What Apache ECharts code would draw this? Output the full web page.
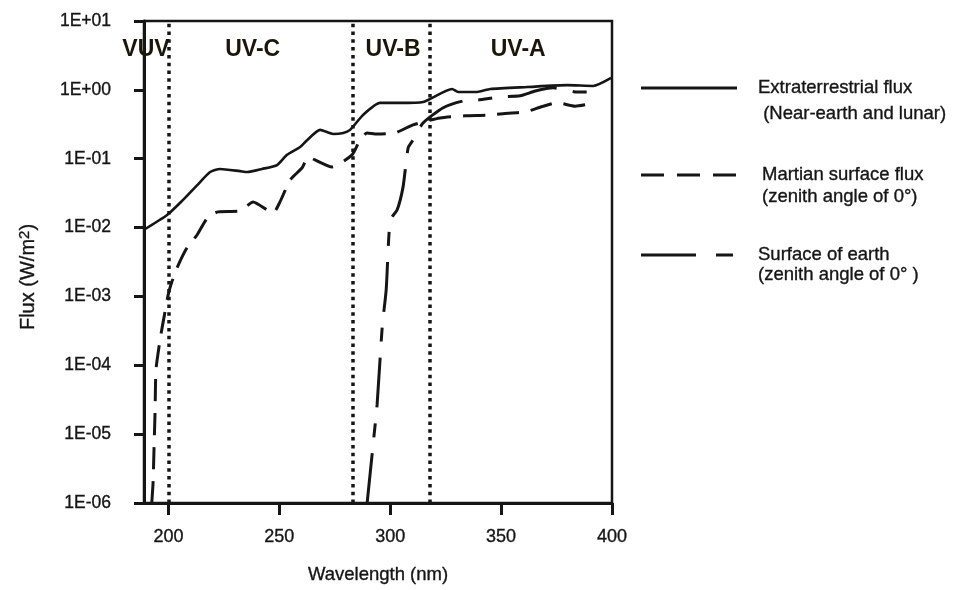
<!DOCTYPE html>
<html>
<head>
<meta charset="utf-8">
<script src="https://cdn.jsdelivr.net/npm/echarts@6/dist/echarts.min.js"></script>
<style>
  html, body { margin: 0; padding: 0; background: #fff; }
  #chart { width: 959px; height: 590px; }
</style>
</head>
<body>
<div id="chart"></div>
<script>
// wavelength (nm) / flux (W/m2)
var wavelengthET = [189, 199.4, 206.6, 212.9, 218.8, 223.3, 232.3, 235.5, 242.2, 249, 253.5, 259.4, 262.5, 268.4, 274.3, 278.8, 281.9, 287.8, 295.4, 304.5, 314.8, 327.9, 330.6, 339.2, 345.1, 361.8, 379.8, 391.5, 399.6];
var fluxET = [0.0093, 0.0152, 0.0252, 0.041, 0.064, 0.071, 0.066, 0.064, 0.071, 0.081, 0.114, 0.148, 0.186, 0.262, 0.229, 0.236, 0.262, 0.433, 0.646, 0.646, 0.667, 1.03, 0.93, 0.93, 1.03, 1.10, 1.17, 1.14, 1.49];

var wavelengthMars = [192.5, 193.1, 193.5, 194, 194.4, 196.2, 197.6, 199.8, 201.2, 203.9, 208.4, 212.9, 217.9, 222.4, 232.3, 238.2, 247.2, 250.3, 254.9, 260.3, 263, 266.1, 273.8, 282.8, 286.4, 289.6, 294.1, 302.2, 310.3, 322.5, 333.8, 343.7, 350.9, 360.9, 367.6, 375.3, 383.4, 392.4];
var fluxMars = [1e-6, 2.0e-6, 5.9e-6, 2.2e-5, 8.6e-5, 2.3e-4, 4.2e-4, 1.02e-3, 1.5e-3, 2.6e-3, 5.1e-3, 7.8e-3, 0.0143, 0.0169, 0.0174, 0.0236, 0.0163, 0.0236, 0.049, 0.074, 0.106, 0.096, 0.076, 0.114, 0.187, 0.237, 0.228, 0.237, 0.31, 0.39, 0.42, 0.43, 0.45, 0.48, 0.56, 0.65, 0.58, 0.65];

var wavelengthEarth = [289.6, 292.3, 294.1, 296.4, 298.2, 300, 303.1, 305.8, 308.1, 310.3, 314.8, 323.9, 332.9, 339.7, 349.6, 358.6, 365.4, 373.5, 384.3, 390.2];
var fluxEarth = [1e-6, 7.1e-6, 2.7e-5, 3.6e-4, 1.26e-3, 0.0129, 0.018, 0.039, 0.144, 0.187, 0.33, 0.55, 0.69, 0.71, 0.79, 0.82, 0.96, 1.07, 0.93, 0.93];

var seriesNames = ['Extraterrestrial', 'Martian', 'Earth'];
var legendLabels = [
  'Extraterrestrial flux\n (Near-earth and lunar)',
  'Martian surface flux\n(zenith angle of 0°)',
  'Surface of earth\n(zenith angle of 0° )'
];

// band borders and band names
var bandBorders = [200, 283, 318];
var bandNames = ['VUV', 'UV-C', 'UV-B', 'UV-A'];
var bandCenters = [189.9, 238, 301.3, 357.7];
var bandLabelLevel = 3.8;

var xTicks = [200, 250, 300, 350, 400];
var yTickLabels = ['1E-06', '1E-05', '1E-04', '1E-03', '1E-02', '1E-01', '1E+00', '1E+01'];

function pairs(xs, ys) {
  return xs.map(function (x, i) { return [x, ys[i]]; });
}

var sans = '"Liberation Sans", Arial, sans-serif';
var ink = '#151515';

// legend swatches drawn as paths so they show the dash pattern without a symbol
var legendIcons = [
  'path://M0,0H96V3H0Z',
  'path://M0,0H23V3H0Z M36,0H59V3H36Z M72,0H95V3H72Z',
  'path://M0,0H55V3H0Z M75,0H92V3H75Z'
];
var legendIconWidths = [96, 95, 92];
var legendTextPad = [16, 21, 20];
var legendLineHeights = [26, 22, 20];
var legendIconY = [88, 175, 255];

var myChart = echarts.init(document.getElementById('chart'));

function legendAt(idx) {
  var lh = legendLineHeights[idx];
  return {
    data: [{ name: seriesNames[idx], icon: legendIcons[idx] }],
    left: 641,
    // blank first line keeps the first text line level with the swatch
    top: legendIconY[idx] - lh * 1.5,
    padding: 0,
    itemWidth: legendIconWidths[idx],
    itemHeight: 3,
    formatter: function () { return '\n' + legendLabels[idx]; },
    textStyle: {
      fontFamily: sans,
      fontSize: 18.5,
      color: ink,
      textBorderColor: ink,
      textBorderWidth: 0.35,
      lineHeight: lh,
      padding: [0, 0, 0, legendTextPad[idx]]
    }
  };
}

var option = {
  animation: false,
  backgroundColor: '#fff',
  grid: {
    left: 144,
    right: 347,
    top: 21,
    bottom: 87,
    show: true,
    borderColor: ink,
    borderWidth: 2.5
  },
  legend: [legendAt(0), legendAt(1), legendAt(2)],
  xAxis: {
    type: 'value',
    min: 189,
    max: 400,
    name: 'Wavelength (nm)',
    nameLocation: 'middle',
    nameGap: 62,
    nameTextStyle: { fontFamily: sans, fontSize: 18.5, color: ink, textBorderColor: ink, textBorderWidth: 0.35 },
    axisLine: { onZero: false, lineStyle: { color: ink, width: 3 } },
    axisTick: { length: 12, lineStyle: { color: ink, width: 3 }, customValues: xTicks },
    axisLabel: { margin: 25, fontFamily: sans, fontSize: 18, color: ink, textBorderColor: ink, textBorderWidth: 0.35, customValues: xTicks },
    splitLine: { show: false }
  },
  yAxis: {
    type: 'log',
    logBase: 10,
    min: 1e-6,
    max: 10,
    interval: 1,
    name: 'Flux (W/m{sup|2})',
    nameLocation: 'middle',
    nameRotate: 90,
    nameGap: 104,
    nameTextStyle: {
      fontFamily: sans,
      fontSize: 20,
      color: ink,
      textBorderColor: ink,
      textBorderWidth: 0.35,
      padding: [0, 30, 0, 0],
      rich: {
        sup: { fontFamily: sans, fontSize: 15, color: ink, verticalAlign: 'top', padding: [0, 0, 8, 0] }
      }
    },
    axisLine: { lineStyle: { color: ink, width: 3 } },
    axisTick: { length: 10, lineStyle: { color: ink, width: 3 } },
    axisLabel: {
      margin: 33,
      fontFamily: sans,
      fontSize: 17.5,
      color: ink,
      textBorderColor: ink,
      textBorderWidth: 0.35,
      formatter: function (v) {
        var e = Math.round(Math.log10(v));
        return yTickLabels[e + 6];
      }
    },
    splitLine: { show: false },
    minorTick: { show: false }
  },
  series: [
    {
      name: seriesNames[0],
      type: 'line',
      showSymbol: false,
      symbol: 'none',
      smooth: 0.2,
      data: pairs(wavelengthET, fluxET),
      lineStyle: { color: ink, width: 2.6, type: 'solid' },
      itemStyle: { color: ink }
    },
    {
      name: seriesNames[1],
      type: 'line',
      showSymbol: false,
      symbol: 'none',
      smooth: 0.2,
      data: pairs(wavelengthMars, fluxMars),
      lineStyle: { color: ink, width: 3, type: [22, 12] },
      itemStyle: { color: ink }
    },
    {
      name: seriesNames[2],
      type: 'line',
      showSymbol: false,
      symbol: 'none',
      smooth: 0.2,
      data: pairs(wavelengthEarth, fluxEarth),
      lineStyle: { color: ink, width: 3, type: [50, 16, 14, 16] },
      itemStyle: { color: ink }
    },
    {
      name: 'bands',
      type: 'scatter',
      symbolSize: 0,
      silent: true,
      clip: false,
      itemStyle: { opacity: 1, color: ink },
      data: bandCenters.map(function (x, i) { return { value: [x, bandLabelLevel], name: bandNames[i] }; }),
      label: {
        show: true,
        position: 'inside',
        formatter: '{b}',
        fontFamily: sans,
        fontWeight: 'bold',
        fontSize: 23,
        color: '#1c1608',
        opacity: 1
      },
      markLine: {
        silent: true,
        symbol: ['none', 'none'],
        label: { show: false },
        lineStyle: { color: ink, width: 3.5, type: [3.5, 4.3], opacity: 1 },
        data: bandBorders.map(function (x) { return { xAxis: x }; })
      }
    }
  ]
};

myChart.setOption(option);
</script>
</body>
</html>
